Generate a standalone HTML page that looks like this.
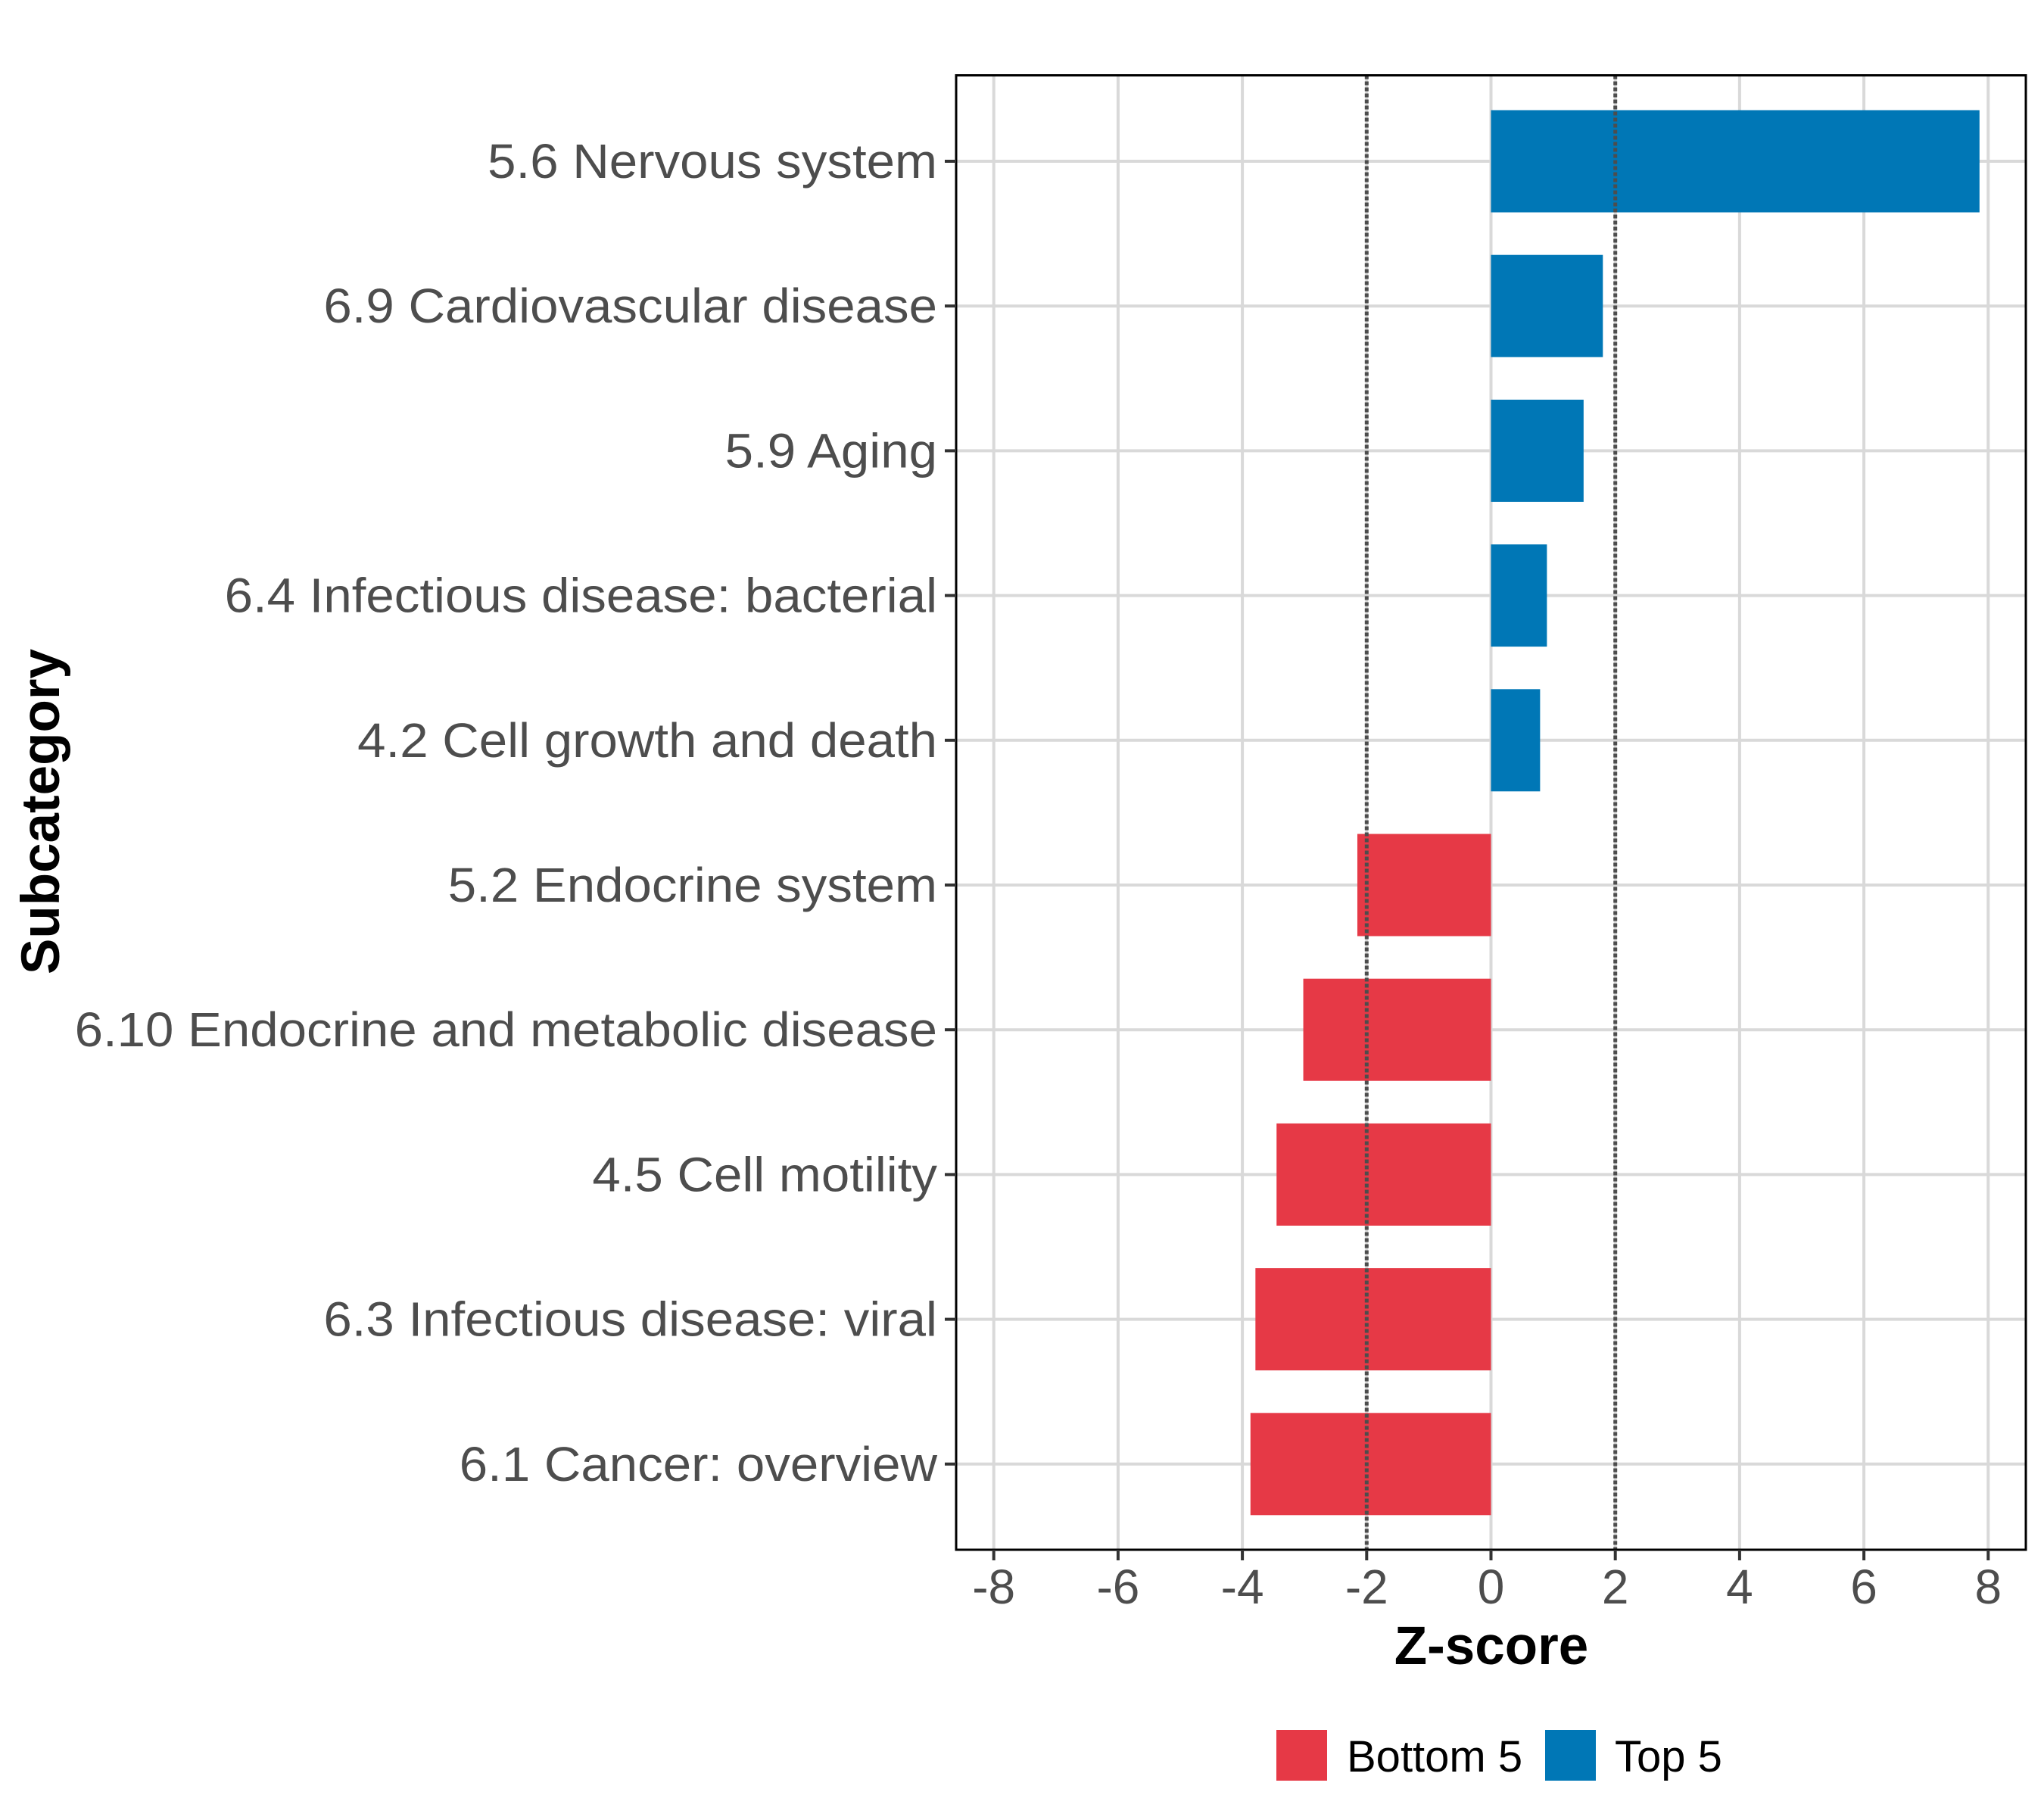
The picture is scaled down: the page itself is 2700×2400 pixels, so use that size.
<!DOCTYPE html>
<html><head><meta charset="utf-8"><style>
html,body{margin:0;padding:0;background:#fff;}
svg{display:block;}
text{font-family:"Liberation Sans",Arial,sans-serif;}
</style></head><body>
<svg id="chart" width="2700" height="2400" viewBox="0 0 2700 2400" xmlns="http://www.w3.org/2000/svg">
<rect width="2700" height="2400" fill="#fff"/>
<g id="grid"></g>
<g id="bars"></g>
<g id="refs"></g>
<rect x="1263" y="99.5" width="1413" height="1947.5" fill="none" stroke="#000" stroke-width="3"/>
<g id="yaxis"></g>
<g id="xaxis"></g>
<text x="1970" y="2198" text-anchor="middle" font-size="71" font-weight="bold" fill="#000">Z-score</text>
<text transform="translate(78,1072) rotate(-90)" text-anchor="middle" font-size="71" font-weight="bold" fill="#000">Subcategory</text>
<g>
<rect x="1686" y="2285" width="67" height="67" fill="#E63946"/>
<text x="1779" y="2340" font-size="58" fill="#000">Bottom 5</text>
<rect x="2041" y="2285" width="67" height="67" fill="#0077B6"/>
<text x="2133" y="2340" font-size="58" fill="#000">Top 5</text>
</g>
</svg>
<script>
const categories = ["5.6 Nervous system","6.9 Cardiovascular disease","5.9 Aging","6.4 Infectious disease: bacterial","4.2 Cell growth and death","5.2 Endocrine system","6.10 Endocrine and metabolic disease","4.5 Cell motility","6.3 Infectious disease: viral","6.1 Cancer: overview"];
const zscores = [7.86, 1.80, 1.49, 0.90, 0.79, -2.15, -3.02, -3.45, -3.79, -3.87];
const groups = ["Top 5","Top 5","Top 5","Top 5","Top 5","Bottom 5","Bottom 5","Bottom 5","Bottom 5","Bottom 5"];
const xTicks = [-8,-6,-4,-2,0,2,4,6,8];
const refLines = [-2, 2];

const NS = "http://www.w3.org/2000/svg";
const X0 = 1969.5, UNIT = 82.1;
function xScale(v){ return X0 + v*UNIT; }
const Y0 = 213, STEP = 191.2, BARH = 135;
function yScale(i){ return Y0 + i*STEP; }
const PL = 1263, PR = 2676, PT = 99.5, PB = 2047;
function mk(tag, attrs, parent){ const e=document.createElementNS(NS,tag); for(const k in attrs) e.setAttribute(k, attrs[k]); parent.appendChild(e); return e; }
const grid=document.getElementById('grid'), bars=document.getElementById('bars'), refs=document.getElementById('refs'), yaxis=document.getElementById('yaxis'), xaxis=document.getElementById('xaxis');

xTicks.forEach(t=>{
  const x=xScale(t);
  const g=mk('line',{x1:x,x2:x,y1:PT,y2:PB,stroke:'#d9d9d9','stroke-width':4},grid);
  
  
  const tk=mk('line',{x1:x,x2:x,y1:PB,y2:PB+14,stroke:'#333','stroke-width':4},xaxis);
  
  
  const lb=mk('text',{x:x,y:2118,'text-anchor':'middle','font-size':64,fill:'#4d4d4d'},xaxis);
  lb.textContent=String(t);
  
  
});
categories.forEach((c,i)=>{
  const y=yScale(i);
  const g=mk('line',{x1:PL,x2:PR,y1:y,y2:y,stroke:'#d9d9d9','stroke-width':4},grid);
  
  
  const v=zscores[i];
  const x1=xScale(Math.min(0,v)), x2=xScale(Math.max(0,v));
  const b=mk('rect',{x:x1,y:y-BARH/2,width:x2-x1,height:BARH,fill:groups[i]==='Top 5'?'#0077B6':'#E63946'},bars);
  
  
  const tk=mk('line',{x1:PL-15,x2:PL,y1:y,y2:y,stroke:'#333','stroke-width':4},yaxis);
  
  
  const lb=mk('text',{x:1238,y:y+22,'text-anchor':'end','font-size':64,fill:'#4d4d4d'},yaxis);
  lb.textContent=c;
  
  
  const w=lb.getComputedTextLength();
  lb.setAttribute('textLength', (w*1.05).toFixed(1));
  lb.setAttribute('lengthAdjust','spacingAndGlyphs');
});
refLines.forEach(r=>{
  const x=xScale(r);
  const l=mk('line',{x1:x,x2:x,y1:PT,y2:PB,stroke:'#4d4d4d','stroke-width':5,'stroke-dasharray':'5 3'},refs);
  
  
});
</script>
</body></html>
